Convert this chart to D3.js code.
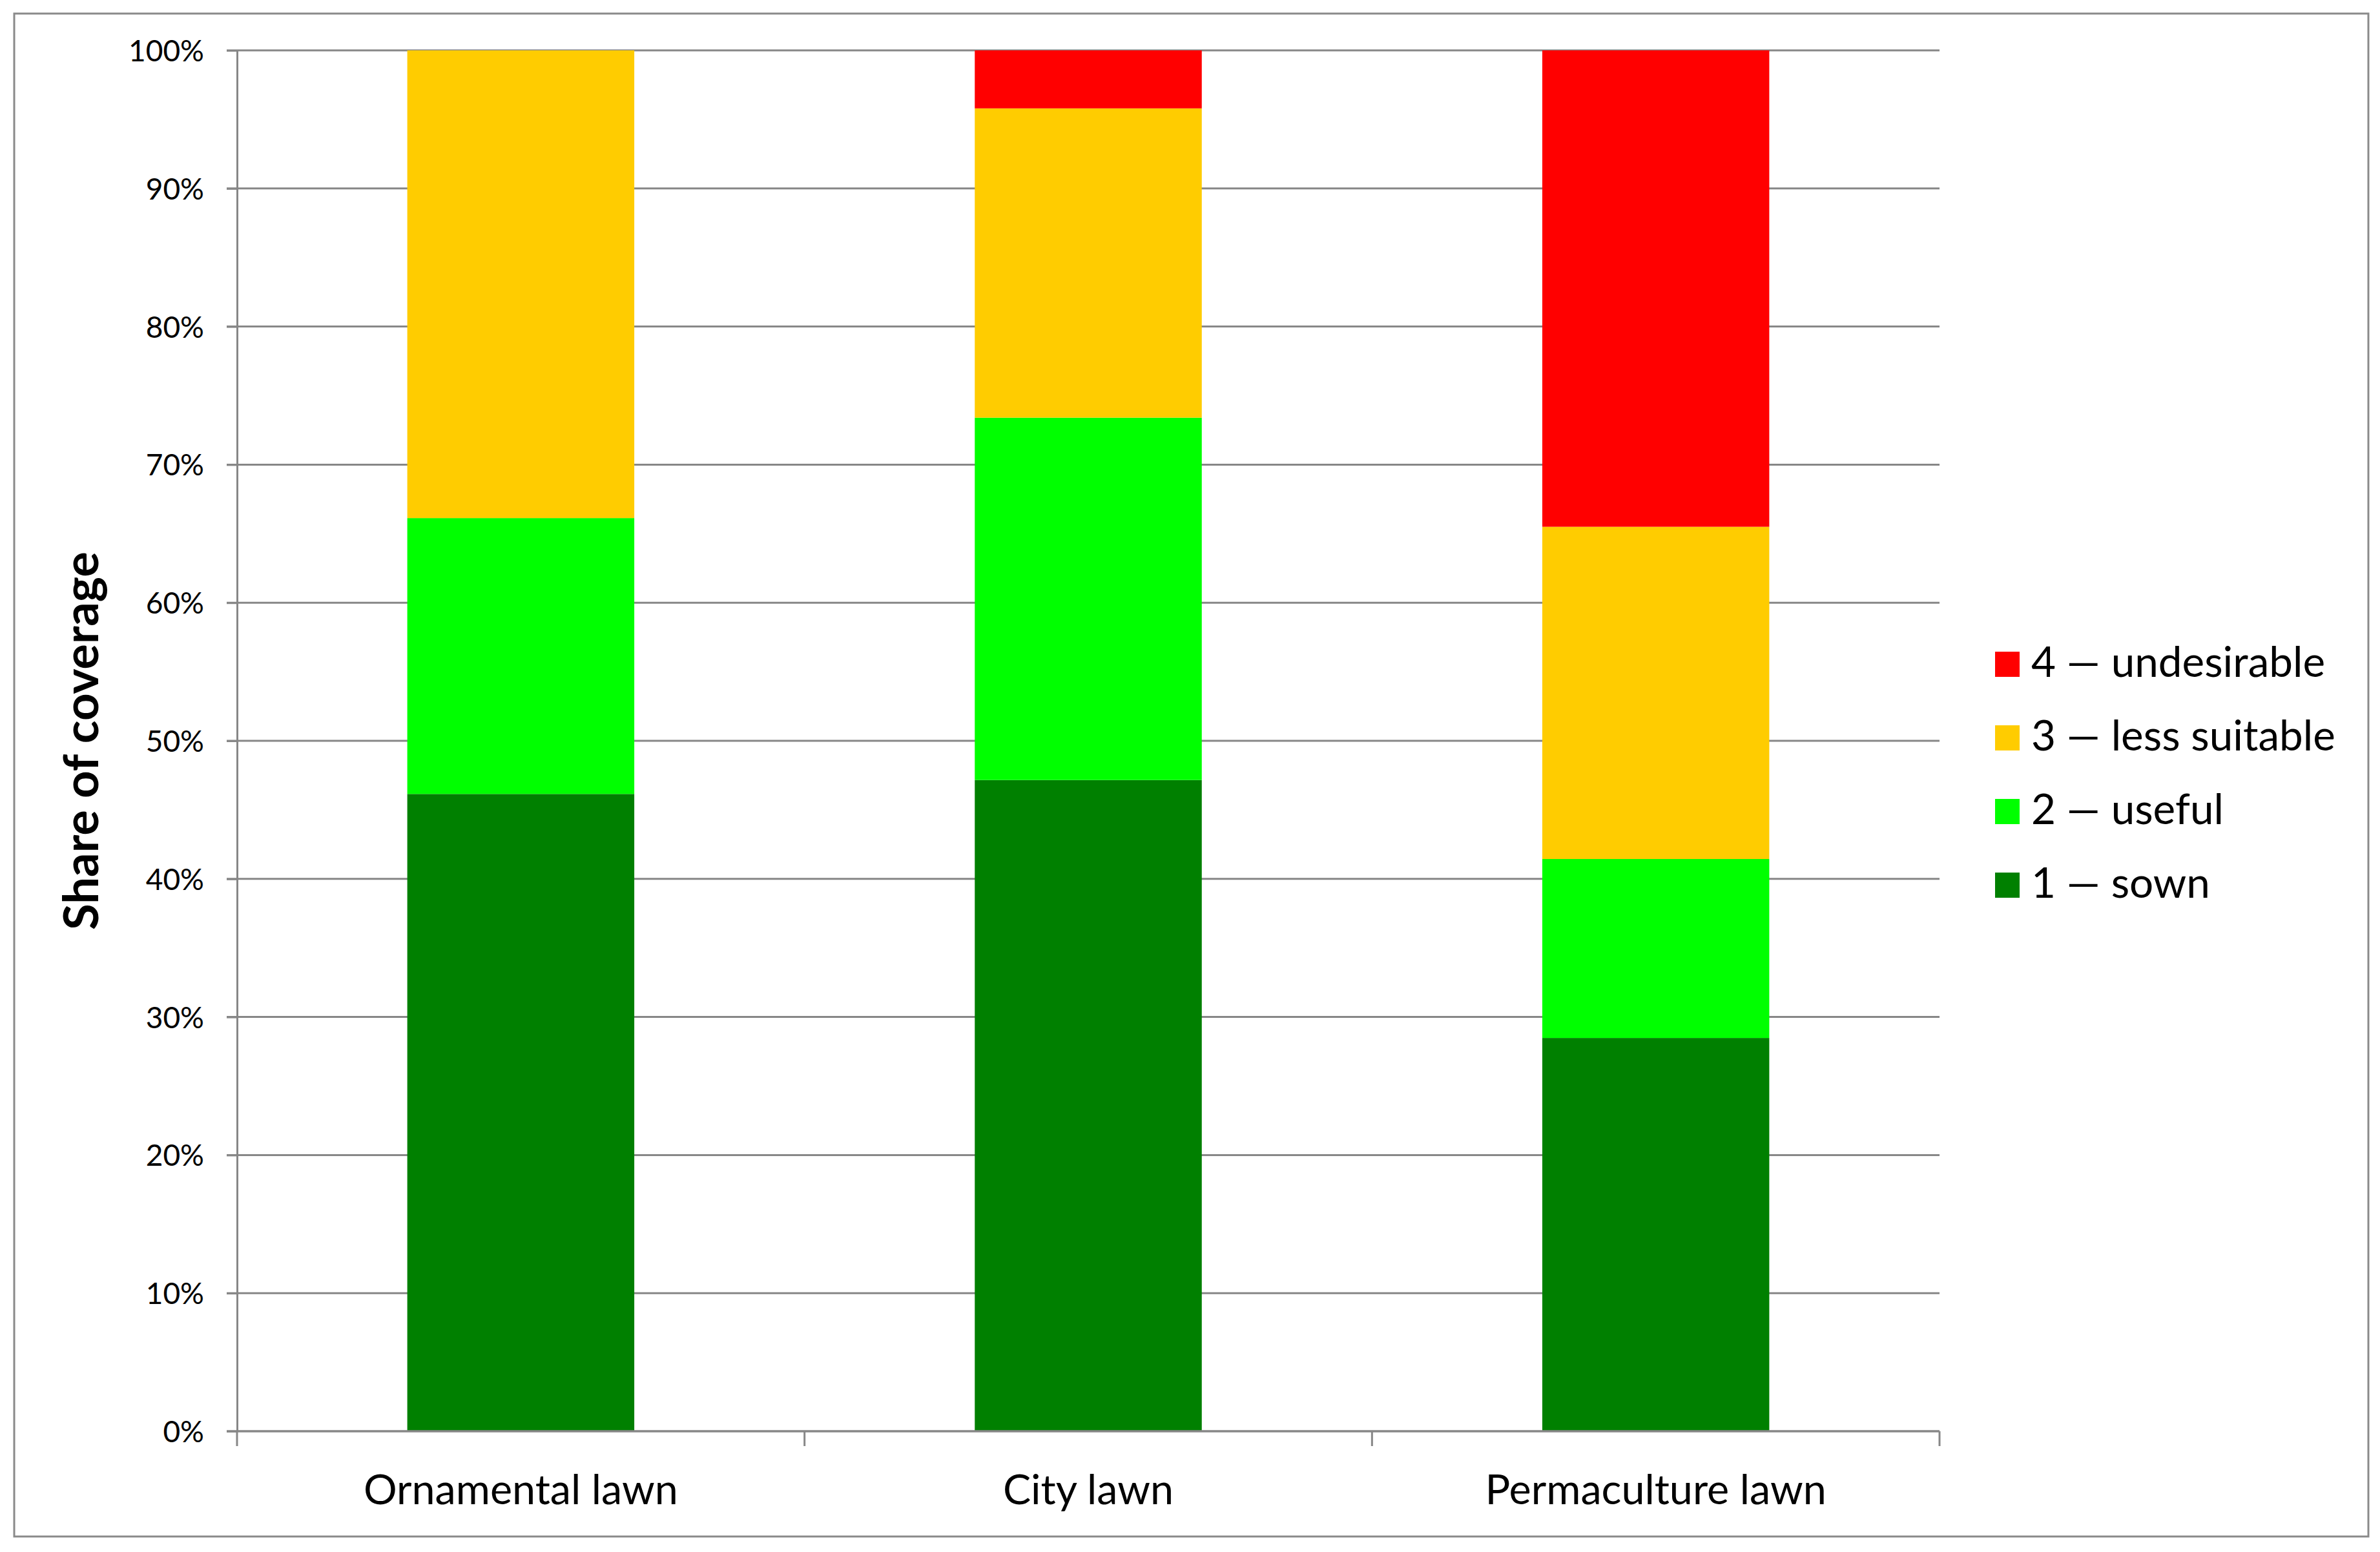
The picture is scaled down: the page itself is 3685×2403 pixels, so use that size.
<!DOCTYPE html>
<html>
<head>
<meta charset="utf-8">
<script src="https://cdn.jsdelivr.net/npm/d3@7"></script>
<style>
  html, body { margin: 0; padding: 0; background: #fff; }
  svg { display: block; }
  text { font-family: Lato, "Open Sans", sans-serif; fill: #000; }
</style>
</head>
<body>
<script>
// ---------- data ----------
const categories = ["Ornamental lawn", "City lawn", "Permaculture lawn"];
const seriesNames = ["1 — sown", "2 — useful", "3 — less suitable", "4 — undesirable"];
const sown = [0.4615, 0.4716, 0.2848];
const useful = [0.1998, 0.2624, 0.1296];
const lessSuitable = [0.3387, 0.2240, 0.2406];
const undesirable = [0.0000, 0.0420, 0.3450];
const seriesColors = ["#008000", "#00FF00", "#FFCC00", "#FF0000"];
const yTickValues = [0, 0.1, 0.2, 0.3, 0.4, 0.5, 0.6, 0.7, 0.8, 0.9, 1.0];
const yTitle = "Share of coverage";

// ---------- layout ----------
const W = 3685, H = 2403;
const plot = { left: 367, right: 3003, top: 78, bottom: 2216 };
const gridColor = "#878787";

const svg = d3.select("body").append("svg").attr("width", W).attr("height", H);
svg.append("rect").attr("width", W).attr("height", H).attr("fill", "#fff");

// outer border
svg.append("rect")
  .attr("x", 22).attr("y", 21).attr("width", 3667 - 22).attr("height", 2379 - 21)
  .attr("fill", "none").attr("stroke", "#8a8a8a").attr("stroke-width", 3);

const x = d3.scaleBand().domain(categories).range([plot.left, plot.right]).paddingInner(0).paddingOuter(0);
const y = d3.scaleLinear().domain([0, 1]).range([plot.bottom, plot.top]);

function fit(sel, target) {
  const node = sel.node();
  const size = parseFloat(sel.style("font-size"));
  const w = node.getComputedTextLength();
  const ns = size * target / w;
  return ns;
}

// gridlines
svg.append("g").selectAll("line").data(yTickValues.filter(d => d > 0)).join("line")
  .attr("x1", plot.left - 16).attr("x2", plot.right)
  .attr("y1", d => y(d)).attr("y2", d => y(d))
  .attr("stroke", gridColor).attr("stroke-width", 3);

// stacked data
const table = categories.map((c, i) => ({
  cat: c,
  [seriesNames[0]]: sown[i],
  [seriesNames[1]]: useful[i],
  [seriesNames[2]]: lessSuitable[i],
  [seriesNames[3]]: undesirable[i]
}));
const stack = d3.stack().keys(seriesNames)(table);
const barW = x.bandwidth() * 0.4;

svg.append("g").selectAll("g").data(stack).join("g")
  .attr("fill", (d, i) => seriesColors[i])
  .selectAll("rect").data(d => d).join("rect")
  .attr("x", d => x(d.data.cat) + (x.bandwidth() - barW) / 2)
  .attr("width", barW)
  .attr("y", d => y(d[1]))
  .attr("height", d => Math.max(0, y(d[0]) - y(d[1])));

// y axis line + ticks
const yAxis = d3.axisLeft(y).tickValues(yTickValues).tickSize(16).tickSizeOuter(0)
  .tickFormat(d3.format(".0%")).tickPadding(35);
const gy = svg.append("g").attr("transform", `translate(${plot.left},0)`).call(yAxis);
gy.select(".domain").attr("stroke", gridColor).attr("stroke-width", 3);
gy.selectAll(".tick line").attr("stroke", gridColor).attr("stroke-width", 3);
gy.selectAll(".tick text").style("font-family", "Lato, sans-serif").style("font-size", "46px")
  .attr("fill", "#000").attr("dy", "0.36em");
{
  const t = gy.selectAll(".tick text").filter(d => d === 1);
  const ns = fit(t, 117);
  gy.selectAll(".tick text").style("font-size", ns + "px");
}

// x axis line + boundary ticks
svg.append("line")
  .attr("x1", plot.left - 16).attr("x2", plot.right)
  .attr("y1", y(0)).attr("y2", y(0))
  .attr("stroke", gridColor).attr("stroke-width", 3.5);
const boundaries = categories.map(c => x(c)).concat([x.range()[1]]);
svg.append("g").selectAll("line").data(boundaries).join("line")
  .attr("x1", d => d).attr("x2", d => d)
  .attr("y1", y(0)).attr("y2", y(0) + 23)
  .attr("stroke", gridColor).attr("stroke-width", 3);

// category labels
const catLabels = svg.append("g").selectAll("text").data(categories).join("text")
  .attr("x", d => x(d) + x.bandwidth() / 2)
  .attr("y", 2329)
  .attr("text-anchor", "middle")
  .style("font-size", "60px")
  .text(d => d);
{
  const ns = fit(catLabels.filter(d => d === "Ornamental lawn"), 487);
  catLabels.style("font-size", ns + "px");
}

// y title
const yt = svg.append("text")
  .attr("transform", "translate(152,1147) rotate(-90)")
  .attr("text-anchor", "middle")
  .style("font-weight", "bold")
  .style("font-size", "60px")
  .text(yTitle);
yt.style("font-size", fit(yt, 586) + "px");

// legend
const legendOrder = seriesNames.map((n, i) => ({ name: n, color: seriesColors[i] })).reverse();
const legY = d3.scalePoint().domain(legendOrder.map(d => d.name)).range([1048, 1390]);
const leg = svg.append("g");
leg.selectAll("rect").data(legendOrder).join("rect")
  .attr("x", 3089).attr("y", d => legY(d.name) - 39)
  .attr("width", 38).attr("height", 39)
  .attr("fill", d => d.color);
const legText = leg.selectAll("text").data(legendOrder).join("text")
  .attr("x", 3145).attr("y", d => legY(d.name))
  .style("font-size", "60px")
  .text(d => d.name);
{
  const ns = fit(legText.filter(d => d.name === "3 — less suitable"), 471);
  legText.style("font-size", ns + "px");
}
</script>
</body>
</html>
